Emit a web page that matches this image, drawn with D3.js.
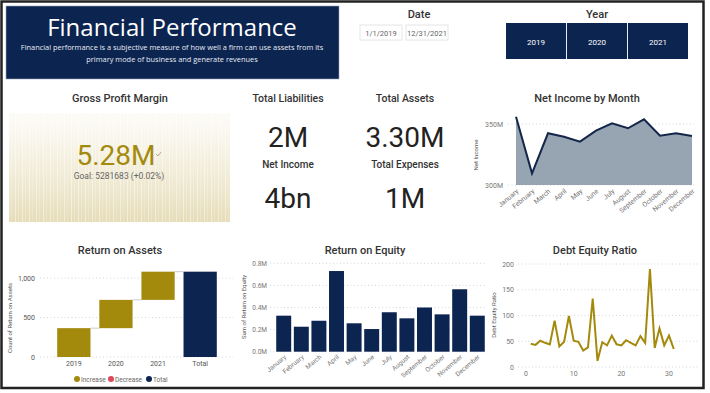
<!DOCTYPE html>
<html><head><meta charset="utf-8">
<script src="https://cdn.jsdelivr.net/npm/d3@7"></script>
<style>
html,body{margin:0;padding:0;background:#fff;}
svg{display:block;}
text{font-family:Roboto, "DejaVu Sans", sans-serif;}
</style></head>
<body>
<svg id="c" width="710" height="393"></svg>
<script>
// ---- data ----
const months = ["January","February","March","April","May","June","July","August","September","October","November","December"];
const netIncomeM = [356, 309.6, 342.4, 339.6, 335.5, 344.5, 350.5, 346.5, 353.8, 340.4, 342.4, 340.2];
const roaCategories = ["2019","2020","2021","Total"];
const roaIncrements = [365, 358, 357];
const roeValuesM = [0.326, 0.226, 0.28, 0.73, 0.257, 0.205, 0.357, 0.302, 0.40, 0.338, 0.565, 0.326];
const derDays = [1,2,3,4,5,6,7,8,9,10,11,12,13,14,15,16,17,18,19,20,21,22,23,24,25,26,27,28,29,30,31];
const derValues = [45,43,51,47,44,90,40,49,99,51,49,32,38,133,12,48,42,61,44,42,52,47,42,60,47,190,37,75,42,61,35];
const years = ["2019","2020","2021"];
const kpiCards = [
  {label:"Total Liabilities", value:"2M"},
  {label:"Total Assets", value:"3.30M"},
  {label:"Net Income", value:"4bn"},
  {label:"Total Expenses", value:"1M"}
];
const niTicks = [300, 350];
const roaTicks = [0, 500, 1000];
const roeTicks = [0, 0.2, 0.4, 0.6, 0.8];
const derYTicks = [0, 50, 100, 150, 200];
const derXTicks = [0, 10, 20, 30];

const NAVY = "#0c2450", GOLD = "#a38a0d", TITLE = "#333", AX = "#777";
const svg = d3.select("#c");

// frame
svg.append("rect").attr("x",1.5).attr("y",1.5).attr("width",702).attr("height",386.5)
  .attr("fill","#fff").attr("stroke","#222").attr("stroke-width",2.5);

// ---- header ----
svg.append("rect").attr("x",6).attr("y",6).attr("width",333).attr("height",73).attr("fill",NAVY)
  .attr("stroke","#9aa6b8").attr("stroke-width",0.6);
svg.append("text").attr("x",172).attr("y",36).attr("text-anchor","middle").attr("fill","#fff")
  .style("font-family","'Open Sans',sans-serif").style("font-size","24px").text("Financial Performance");
svg.append("text").attr("x",172).attr("y",50).attr("text-anchor","middle").attr("fill","#e8ecf3")
  .style("font-family","'Open Sans',sans-serif").style("font-size","7.4px")
  .text("Financial performance is a subjective measure of how well a firm can use assets from its");
svg.append("text").attr("x",172).attr("y",62).attr("text-anchor","middle").attr("fill","#e8ecf3")
  .style("font-family","'Open Sans',sans-serif").style("font-size","7.4px")
  .text("primary mode of business and generate revenues");

function title(x,y,t,size){
  svg.append("text").attr("x",x).attr("y",y).attr("text-anchor","middle").attr("fill",TITLE)
    .style("font-size",(size||11)+"px").style("font-weight","500").text(t);
}
// Date slicer
title(419,18,"Date");
[["1/1/2019",360],["12/31/2021",406]].forEach(d=>{
  svg.append("rect").attr("x",d[1]).attr("y",25).attr("width",42).attr("height",15).attr("fill","#fff")
    .attr("stroke","#e6e6e6");
  svg.append("text").attr("x",d[1]+21).attr("y",35.5).attr("text-anchor","middle").attr("fill","#666")
    .style("font-size","7.5px").text(d[0]);
});
// Year slicer
title(597,18,"Year");
const yx = d3.scaleBand().domain(years).range([506,688]).paddingInner(0.015);
years.forEach(y=>{
  svg.append("rect").attr("x",yx(y)).attr("y",23).attr("width",yx.bandwidth()).attr("height",36).attr("fill",NAVY);
  svg.append("text").attr("x",yx(y)+yx.bandwidth()/2).attr("y",45).attr("text-anchor","middle").attr("fill","#fff")
    .style("font-size","8px").text(y);
});

// ---- Gross Profit Margin KPI ----
title(120,102,"Gross Profit Margin");
const defs = svg.append("defs");
const grad = defs.append("linearGradient").attr("id","gpm").attr("x1",0).attr("y1",0).attr("x2",0).attr("y2",1);
grad.append("stop").attr("offset","0%").attr("stop-color","#f3eedb").attr("stop-opacity",0.25);
grad.append("stop").attr("offset","45%").attr("stop-color","#ece5c8").attr("stop-opacity",0.6);
grad.append("stop").attr("offset","100%").attr("stop-color","#e6dcb8").attr("stop-opacity",1);
const pat = defs.append("pattern").attr("id","streak").attr("width",7).attr("height",110).attr("patternUnits","userSpaceOnUse");
pat.append("rect").attr("x",1).attr("y",0).attr("width",0.8).attr("height",110).attr("fill","#fff").attr("opacity",0.55);
pat.append("rect").attr("x",4).attr("y",0).attr("width",0.6).attr("height",110).attr("fill","#fff").attr("opacity",0.35);
svg.append("rect").attr("x",9).attr("y",113).attr("width",221).attr("height",109).attr("fill","url(#gpm)");
svg.append("rect").attr("x",9).attr("y",113).attr("width",221).attr("height",109).attr("fill","url(#streak)");
svg.append("text").attr("x",116).attr("y",165).attr("text-anchor","middle").attr("fill",GOLD)
  .style("font-size","28px").text("5.28M");
svg.append("path").attr("d","M156,154 l2,2 l3,-4").attr("fill","none").attr("stroke","#a89a70").attr("stroke-width",0.8);
svg.append("text").attr("x",119).attr("y",179).attr("text-anchor","middle").attr("fill","#666")
  .style("font-size","8.5px").text("Goal: 5281683 (+0.02%)");

// ---- KPI cards ----
const cardX = [288,405], cardLY = [102,168], cardVY = [147,208];
kpiCards.forEach((c,i)=>{
  const cx = cardX[i%2], r = Math.floor(i/2);
  svg.append("text").attr("x",cx).attr("y",cardLY[r]).attr("text-anchor","middle").attr("fill",TITLE)
    .style("font-size",r===0?"10.5px":"10px").style("font-weight","500").text(c.label);
  svg.append("text").attr("x",cx).attr("y",cardVY[r]).attr("text-anchor","middle").attr("fill","#222")
    .style("font-size","28px").text(c.value);
});

function dotted(g, x1, x2, y){
  g.append("line").attr("x1",x1).attr("x2",x2).attr("y1",y).attr("y2",y)
    .attr("stroke","#ccc").attr("stroke-width",0.8).attr("stroke-dasharray","1,2.5");
}
function ylabel(x,y,t){
  svg.append("text").attr("transform",`translate(${x},${y}) rotate(-90)`).attr("text-anchor","middle")
    .attr("fill","#555").style("font-size","6px").text(t);
}

// ---- Net Income by Month ----
title(587,102,"Net Income by Month");
{
  const x = d3.scalePoint().domain(months).range([516,692]);
  const y = d3.scaleLinear().domain([300,350]).range([185,124]);
  const g = svg.append("g");
  niTicks.forEach(t=>{
    dotted(g, 508, 694, y(t));
    g.append("text").attr("x",503).attr("y",y(t)+2.5).attr("text-anchor","end").attr("fill",AX)
      .style("font-size","7px").text(t+"M");
  });
  ylabel(478,155,"Net Income");
  const area = d3.area().x((d,i)=>x(months[i])).y0(y(300)).y1(d=>y(d));
  const line = d3.line().x((d,i)=>x(months[i])).y(d=>y(d));
  g.append("path").datum(netIncomeM).attr("d",area).attr("fill","#97a4b2");
  g.append("path").datum(netIncomeM).attr("d",line).attr("fill","none").attr("stroke","#14264a").attr("stroke-width",2);
  months.forEach(m=>{
    g.append("text").attr("transform",`translate(${x(m)+3},${y(300)+7}) rotate(-40)`).attr("text-anchor","end")
      .attr("fill",AX).style("font-size","6.8px").text(m);
  });
}

// ---- Return on Assets (waterfall) ----
title(120,254,"Return on Assets");
{
  const x = d3.scaleBand().domain(roaCategories).range([53,221]).paddingInner(0.21).paddingOuter(0.1);
  const y = d3.scaleLinear().domain([0,1000]).range([357,278]);
  const g = svg.append("g");
  roaTicks.forEach(t=>{
    dotted(g, 40, 233, y(t));
    g.append("text").attr("x",35).attr("y",y(t)+2.5).attr("text-anchor","end").attr("fill","#555")
      .style("font-size","7px").text(d3.format(",")(t));
  });
  ylabel(12,318,"Count of Return on Assets");
  let cum = 0;
  const bars = [];
  roaIncrements.forEach((v,i)=>{ bars.push({c:roaCategories[i], s:cum, e:cum+v, col:GOLD}); cum += v; });
  bars.push({c:"Total", s:0, e:cum, col:NAVY});
  bars.forEach((b,i)=>{
    if(i<bars.length-1){
      g.append("line").attr("x1",x(b.c)+x.bandwidth()).attr("x2",x(bars[i+1].c)).attr("y1",y(b.e)).attr("y2",y(b.e))
        .attr("stroke","#ccc").attr("stroke-width",1);
    }
    g.append("rect").attr("x",x(b.c)).attr("width",x.bandwidth()).attr("y",y(b.e)).attr("height",y(b.s)-y(b.e)).attr("fill",b.col);
    g.append("text").attr("x",x(b.c)+x.bandwidth()/2).attr("y",366).attr("text-anchor","middle").attr("fill","#555")
      .style("font-size","7px").text(b.c);
  });
  const leg = [["Increase",GOLD,77],["Decrease","#e0475c",111],["Total",NAVY,149]];
  leg.forEach(l=>{
    g.append("circle").attr("cx",l[2]).attr("cy",379).attr("r",3).attr("fill",l[1]);
    g.append("text").attr("x",l[2]+4).attr("y",381.5).attr("fill","#666").style("font-size","6.5px").text(l[0]);
  });
}

// ---- Return on Equity ----
title(365,254,"Return on Equity");
{
  const x = d3.scaleBand().domain(months).range([275,486]).paddingInner(0.15).paddingOuter(0.07);
  const y = d3.scaleLinear().domain([0,0.8]).range([351.7,263.3]);
  const g = svg.append("g");
  roeTicks.forEach(t=>{
    dotted(g, 270, 486, y(t));
    g.append("text").attr("x",267).attr("y",y(t)+2.5).attr("text-anchor","end").attr("fill",AX)
      .style("font-size","6.5px").text(d3.format(".1f")(t)+"M");
  });
  ylabel(246,307,"Sum of Return on Equity");
  months.forEach((m,i)=>{
    g.append("rect").attr("x",x(m)).attr("width",x.bandwidth()).attr("y",y(roeValuesM[i]))
      .attr("height",y(0)-y(roeValuesM[i])).attr("fill",NAVY);
    g.append("text").attr("transform",`translate(${x(m)+x.bandwidth()/2+3},${y(0)+6}) rotate(-40)`).attr("text-anchor","end")
      .attr("fill",AX).style("font-size","6.5px").text(m);
  });
}

// ---- Debt Equity Ratio ----
title(595,254,"Debt Equity Ratio");
{
  const x = d3.scaleLinear().domain([0,30]).range([526,669]);
  const y = d3.scaleLinear().domain([0,200]).range([367,264]);
  const g = svg.append("g");
  derYTicks.forEach(t=>{
    dotted(g, 518, 700, y(t));
    g.append("text").attr("x",514).attr("y",y(t)+2.5).attr("text-anchor","end").attr("fill",AX)
      .style("font-size","7px").text(t);
  });
  derXTicks.forEach(t=>{
    g.append("text").attr("x",x(t)).attr("y",376).attr("text-anchor","middle").attr("fill",AX)
      .style("font-size","7px").text(t);
  });
  ylabel(496,315,"Debt Equity Ratio");
  const line = d3.line().x((d,i)=>x(derDays[i])).y(d=>y(d));
  g.append("path").datum(derValues).attr("d",line).attr("fill","none").attr("stroke",GOLD).attr("stroke-width",2)
    .attr("stroke-linejoin","miter");
}
</script>
</body></html>
